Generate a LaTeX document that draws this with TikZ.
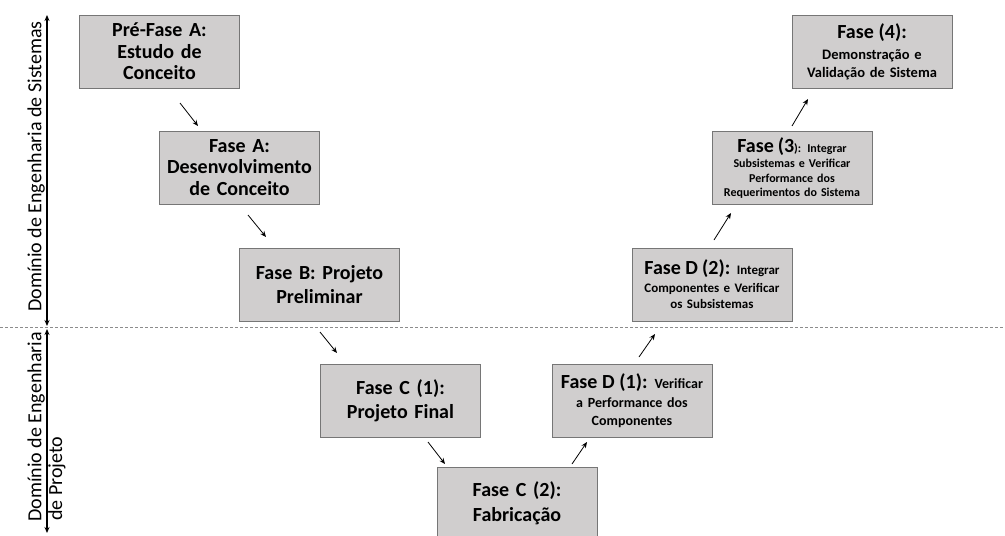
\documentclass[tikz,border=0pt]{standalone}
\usepackage{fontspec}
\setmainfont{Carlito}
\usetikzlibrary{arrows.meta}
\definecolor{boxfill}{RGB}{208,206,206}
\definecolor{boxline}{RGB}{118,118,118}
\definecolor{dashcol}{RGB}{140,140,140}
\newcommand{\bigf}{\fontsize{20}{22}\selectfont}
\begin{document}
\begin{tikzpicture}[x=1pt,y=-1pt,
  phase/.style={draw=boxline, fill=boxfill, line width=0.9pt, minimum width=160pt,
    minimum height=73pt, inner sep=0pt, align=center, text width=158pt,
    font=\bfseries\fontsize{20}{21.5}\selectfont},
  flow/.style={line width=0.8pt, -{Stealth[length=6pt,width=5pt]}},
  dom/.style={rotate=90, anchor=base west, inner sep=0pt, font=\fontsize{20}{22}\selectfont},
  axis/.style={line width=1.3pt, {Stealth[length=6pt,width=5pt]}-{Stealth[length=6pt,width=5pt]}},
  sep/.style={dashcol, line width=0.8pt, dash pattern=on 3pt off 2pt}]
\useasboundingbox (0,0) rectangle (1005,536);

% separator and domain axes
\coordinate (sepL) at (0,327);
\coordinate (sepR) at (1005,327);
\draw[sep] (sepL) -- (sepR);
\coordinate (ua) at (47,15);
\coordinate (ub) at (47,326);
\draw[axis] (ub) -- (ua);
\coordinate (la) at (47,329);
\coordinate (lb) at (47,533);
\draw[axis] (la) -- (lb);

\node[dom] (lsys) at (41.5,312) {Domínio de Engenharia de Sistemas};
\node[dom] (lproj1) at (41.5,522) {Domínio de Engenharia};
\node[dom] (lproj2) at (62,521) {de Projeto};

% phases
\node[phase] (pre) at (159.5,51.5) {Pré-Fase A:\\Estudo de\\Conceito};
\node[phase] (fa) at (239.5,167.5) {Fase A:\\Desenvolvimento\\de Conceito};
\node[phase, font=\bfseries\fontsize{20}{24}\selectfont] (fb) at (319.5,284.5) {Fase B: Projeto\\Preliminar};
\node[phase, font=\bfseries\fontsize{20}{24}\selectfont] (c1) at (400.5,401) {Fase C (1):\\Projeto Final};
\node[phase, font=\bfseries\fontsize{20}{25}\selectfont] (c2) at (517,503.5) {Fase C (2):\\Fabricação};
\node[phase, font=\bfseries\fontsize{14}{18}\selectfont] (d1) at (632,400.5) {{\bigf Fase D (1):} Verificar\\[1pt]a Performance dos\\Componentes};
\node[phase, font=\bfseries\fontsize{13}{16}\selectfont] (d2) at (712,284.5) {{\bigf Fase D (2):} Integrar\\[2pt]Componentes e Verificar\\os Subsistemas};
\node[phase, font=\bfseries\fontsize{12}{14.5}\selectfont] (f3) at (792,168) {{\bigf Fase (3}): Integrar\\[1pt]Subsistemas e Verificar\\Performance dos\\Requerimentos do Sistema};
\node[phase, font=\bfseries\fontsize{14.5}{18}\selectfont] (f4) at (872,51.5) {{\bigf Fase (4):}\\[3pt]Demonstração e\\Validação de Sistema};

% connectors
\coordinate (a1s) at (180,103); \coordinate (a1e) at (198,126);
\coordinate (a2s) at (248,215); \coordinate (a2e) at (266,237);
\coordinate (a3s) at (320,332); \coordinate (a3e) at (337,353);
\coordinate (a4s) at (428,442); \coordinate (a4e) at (445,464);
\coordinate (a5s) at (572,464); \coordinate (a5e) at (587,442);
\coordinate (a6s) at (639,357); \coordinate (a6e) at (655,334);
\coordinate (a7s) at (714,240); \coordinate (a7e) at (731,213);
\coordinate (a8s) at (792,126); \coordinate (a8e) at (808,99);
\draw[flow] (a1s) -- (a1e);
\draw[flow] (a2s) -- (a2e);
\draw[flow] (a3s) -- (a3e);
\draw[flow] (a4s) -- (a4e);
\draw[flow] (a5s) -- (a5e);
\draw[flow] (a6s) -- (a6e);
\draw[flow] (a7s) -- (a7e);
\draw[flow] (a8s) -- (a8e);
\end{tikzpicture}
\end{document}
